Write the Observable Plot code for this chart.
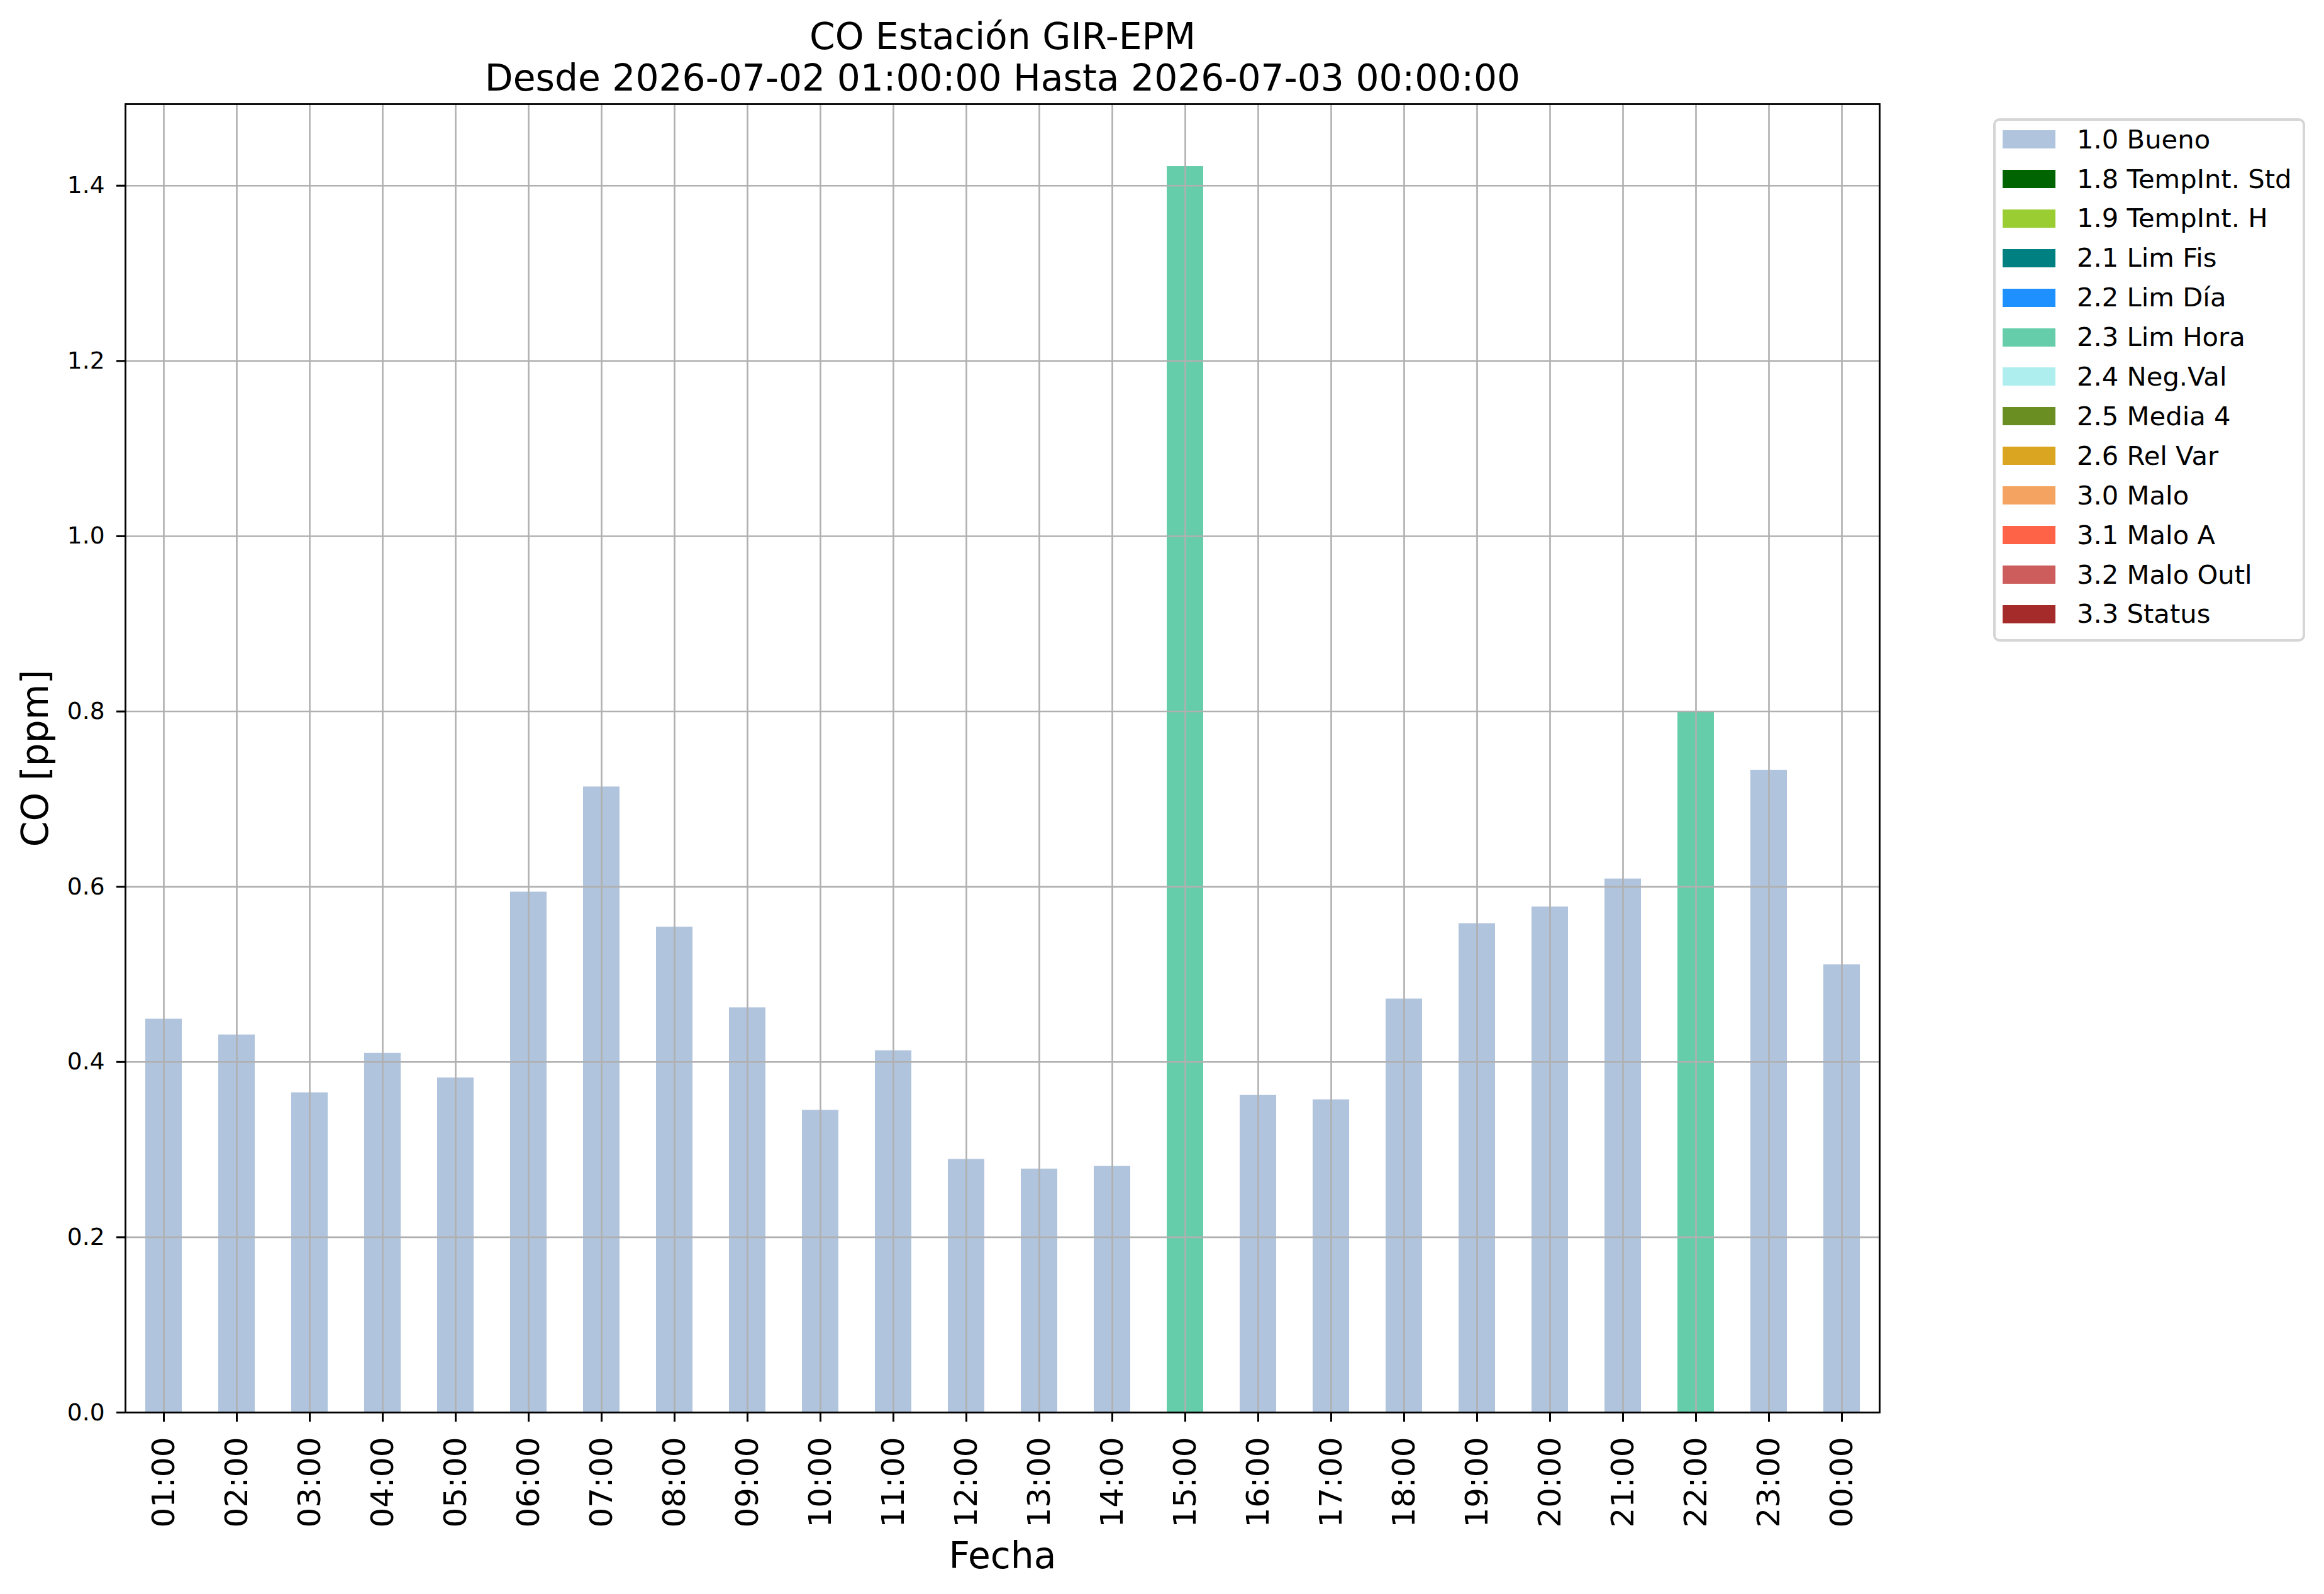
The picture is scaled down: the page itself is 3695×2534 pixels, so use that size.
<!DOCTYPE html>
<html>
<head>
<meta charset="utf-8">
<script src="https://cdn.jsdelivr.net/npm/d3@7"></script>
<script src="https://cdn.jsdelivr.net/npm/@observablehq/plot@0.6"></script>
<style>
html, body { margin: 0; padding: 0; background: #fff; }
#wrap { position: relative; width: 3695px; height: 2534px; font-family: "DejaVu Sans", sans-serif; overflow: hidden; }
#wrap svg { position: absolute; left: 0; top: 0; }
#legend { position: absolute; left: 3169px; top: 188px; width: 496px; height: 832px; box-sizing: border-box;
  border: 4px solid #d6d6d6; border-radius: 10px; background: #fff; }
.row { position: absolute; left: 11px; height: 29px; display: flex; align-items: center; }
.sw { width: 84px; height: 29px; flex: none; }
.lab { margin-left: 34px; font-size: 41.7px; line-height: 1; white-space: nowrap; color: #000; }
</style>
</head>
<body>
<div id="wrap"><div id="legend"></div></div>
<script>
// ---- data ----
const hours = ["01:00","02:00","03:00","04:00","05:00","06:00","07:00","08:00","09:00","10:00","11:00","12:00",
               "13:00","14:00","15:00","16:00","17:00","18:00","19:00","20:00","21:00","22:00","23:00","00:00"];
const values = [0.449,0.431,0.365,0.410,0.382,0.594,0.714,0.554,0.462,0.345,0.413,0.289,
                0.278,0.281,1.422,0.362,0.357,0.472,0.558,0.577,0.609,0.799,0.733,0.511];
const flags = ["1.0 Bueno","1.0 Bueno","1.0 Bueno","1.0 Bueno","1.0 Bueno","1.0 Bueno","1.0 Bueno","1.0 Bueno",
               "1.0 Bueno","1.0 Bueno","1.0 Bueno","1.0 Bueno","1.0 Bueno","1.0 Bueno","2.3 Lim Hora","1.0 Bueno",
               "1.0 Bueno","1.0 Bueno","1.0 Bueno","1.0 Bueno","1.0 Bueno","2.3 Lim Hora","1.0 Bueno","1.0 Bueno"];
const legendLabels = ["1.0 Bueno","1.8 TempInt. Std","1.9 TempInt. H","2.1 Lim Fis","2.2 Lim Día","2.3 Lim Hora",
                      "2.4 Neg.Val","2.5 Media 4","2.6 Rel Var","3.0 Malo","3.1 Malo A","3.2 Malo Outl","3.3 Status"];
const legendColors = ["#b0c4de","#006400","#9acd32","#008080","#1e90ff","#66cdaa",
                      "#afeeee","#6b8e23","#daa520","#f4a460","#ff6347","#cd5c5c","#a52a2a"];
const yTicks = [0, 0.2, 0.4, 0.6, 0.8, 1.0, 1.2, 1.4];
const titleLines = ["CO Estación GIR-EPM", "Desde 2026-07-02 01:00:00 Hasta 2026-07-03 00:00:00"];
const yLabel = "CO [ppm]";
const xLabel = "Fecha";

// ---- chart ----
const table = hours.map((h, i) => ({hour: h, value: values[i], flag: flags[i]}));
const W = 3695, H = 2534;
const frameL = 199, frameR = 2988, frameT = 165, frameB = 2245;
const yMax = d3.max(values) * 1.05;

const chart = Plot.plot({
  width: W, height: H,
  marginLeft: frameL, marginRight: W - frameR, marginTop: frameT, marginBottom: H - frameB,
  style: {fontFamily: "DejaVu Sans", background: "white", color: "black", overflow: "visible"},
  x: {type: "band", domain: hours, paddingInner: 0.5, paddingOuter: 0.25, label: null},
  y: {domain: [0, yMax], label: null},
  color: {type: "ordinal", domain: legendLabels, range: legendColors},
  marks: [
    Plot.barY(table, {x: "hour", y: "value", fill: "flag"}),
    Plot.gridX({stroke: "#b0b0b0", strokeOpacity: 1, strokeWidth: 2.6}),
    Plot.gridY(yTicks, {stroke: "#b0b0b0", strokeOpacity: 1, strokeWidth: 2.6}),
    Plot.axisY(yTicks, {tickFormat: d3.format(".1f"), tickSize: 14, tickPadding: 19, fontSize: 37.5,
                        strokeWidth: 3, label: null, color: "black"}),
    Plot.axisX({tickSize: 15, tickPadding: 24, tickRotate: -90, fontSize: 50, strokeWidth: 3, label: null, color: "black"}),
    Plot.frame({stroke: "black", strokeWidth: 2.8}),
    Plot.text([titleLines[0]], {text: d => d, frameAnchor: "top", dy: -88, lineAnchor: "bottom", fontSize: 58.3, fill: "black"}),
    Plot.text([titleLines[1]], {text: d => d, frameAnchor: "top", dy: -22, lineAnchor: "bottom", fontSize: 58.3, fill: "black"}),
    Plot.text([yLabel], {text: d => d, frameAnchor: "left", textAnchor: "middle", dx: -124, rotate: -90, lineAnchor: "bottom", fontSize: 58.3, fill: "black"}),
    Plot.text([xLabel], {text: d => d, frameAnchor: "bottom", dy: 247, lineAnchor: "bottom", fontSize: 58.3, fill: "black"})
  ]
});
document.getElementById("wrap").insertBefore(chart, document.getElementById("legend"));

// ---- legend ----
const legend = document.getElementById("legend");
legendLabels.forEach((lab, i) => {
  const row = document.createElement("div");
  row.className = "row";
  row.style.top = (15 + 62.9 * i) + "px";
  const sw = document.createElement("div");
  sw.className = "sw";
  sw.style.background = legendColors[i];
  const t = document.createElement("span");
  t.className = "lab";
  t.textContent = lab;
  row.appendChild(sw); row.appendChild(t);
  legend.appendChild(row);
});
</script>
</body>
</html>
